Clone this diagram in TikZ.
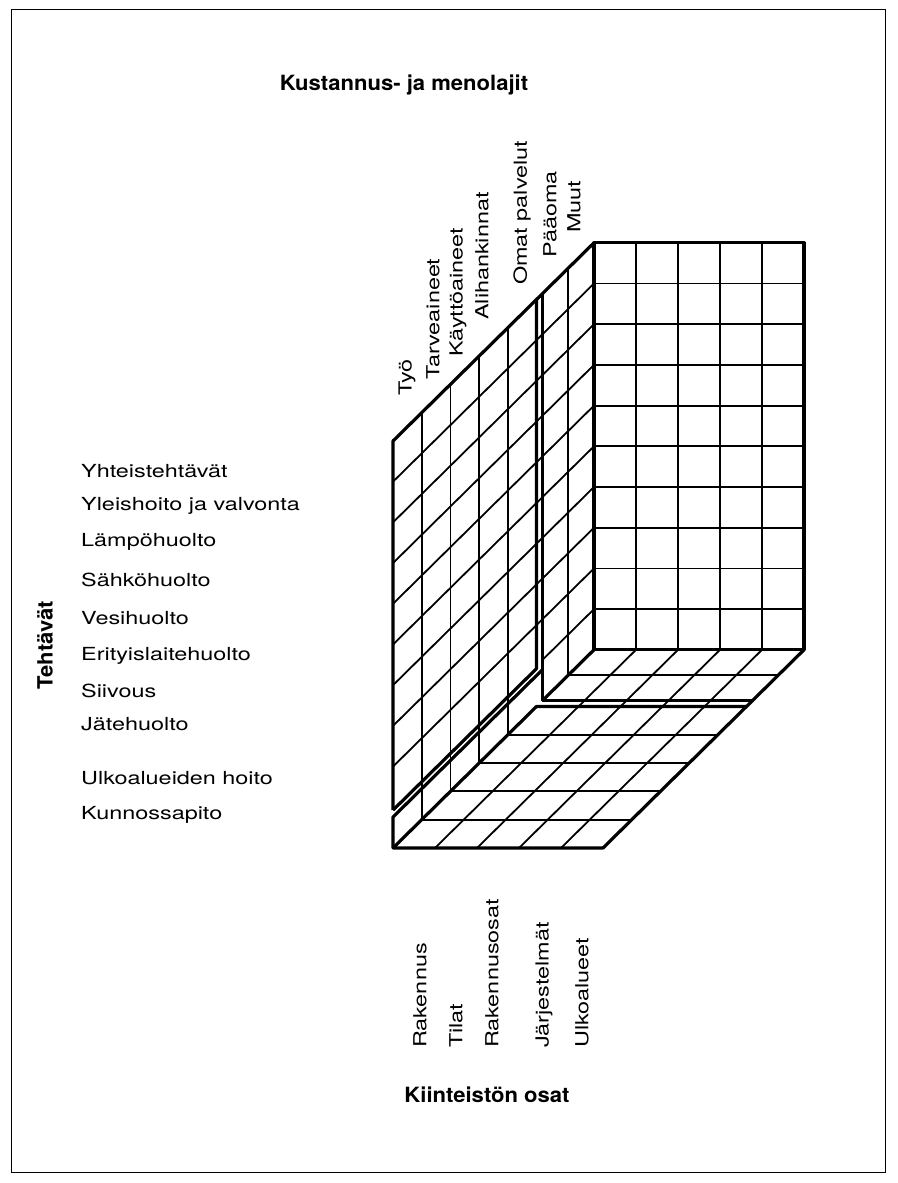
\documentclass[tikz,border=0pt]{standalone}
\usepackage{fontspec}
\setmainfont{TeX Gyre Heros}[FakeStretch=1.3]
\newfontfamily\headfont{TeX Gyre Heros}[FakeStretch=1.05]
\begin{document}
\begin{tikzpicture}[x={(42pt,0pt)},y={(0pt,40.7pt)},z={(28.7pt,28.3pt)},
  cell/.style={line width=1.8pt},
  edge/.style={line width=3.2pt,line join=round},
  lab/.style={inner sep=0pt,font=\fontsize{18}{20}\selectfont},
  head/.style={inner sep=0pt,font=\headfont\fontsize{21}{23}\selectfont\bfseries}]
  \useasboundingbox (-393pt,-335pt) rectangle (504pt,848pt);
  \draw[line width=1pt] (-381pt,-324pt) rectangle (492pt,838pt);

  % back wall
  \foreach \i in {1,...,4}
    \draw[cell] (\i,0,7) -- (\i,10,7);
  \foreach \j in {1,...,9}
    \draw[cell] (0,\j,7) -- (5,\j,7);
  \draw[edge] (0,0,7) -- (5,0,7) -- (5,10,7) -- (0,10,7) -- cycle;

  % side wall
  \foreach \j in {2,...,9}
    \draw[cell] (0,\j,0) -- (0,\j,7);
  \draw[cell] (0,1,5.2) -- (0,1,7);
  \foreach \k in {1,...,4}
    \draw[cell] (0,0,\k) -- (0,10,\k);
  \draw[cell] (0,0,6.1) -- (0,10,6.1);

  % floor
  \foreach \k in {1,...,4}
    \draw[cell] (0,0,\k) -- (5,0,\k);
  \draw[cell] (0,0,6.1) -- (5,0,6.1);
  \foreach \i in {1,...,4}
    \draw[cell] (\i,0,0) -- (\i,0,7);

  % outlines of the three blocks
  \draw[edge] (0,0.93,0) -- (0,10,0) -- (0,10,7);
  \draw[edge] (0,0.93,0) -- (0,0.93,5) -- (0,10,5);
  \draw[edge] (0,0.76,5.2) -- (0,0.76,0) -- (0,0,0) -- (5,0,0) -- (5,0,7);
  \draw[edge] (0,0,0) -- (0,0,5) -- (5,0,5);
  \draw[edge] (0,10,5.2) -- (0,0,5.2) -- (5,0,5.2);
  \draw[edge] (0,0,5.2) -- (0,0,7);

  % titles
  \node[head] (kulut) at (11pt,763pt) {Kustannus- ja menolajit};
  \node[head] (osat) at (94pt,-247pt) {Kiinteistön osat};
  \node[head,rotate=90] (teht) at (-348pt,203pt) {Tehtävät};

  % cost types
  \node[lab,rotate=90,anchor=west] (tyo) at (14pt,452pt) {Työ};
  \node[lab,rotate=90,anchor=west] (tarve) at (40pt,468pt) {Tarveaineet};
  \node[lab,rotate=90,anchor=west] (kaytto) at (65pt,491pt) {Käyttöaineet};
  \node[lab,rotate=90,anchor=west] (ali) at (89pt,528pt) {Alihankinnat};
  \node[lab,rotate=90,anchor=west] (omat) at (129pt,563pt) {Omat palvelut};
  \node[lab,rotate=90,anchor=west] (paaoma) at (157pt,590pt) {Pääoma};
  \node[lab,rotate=90,anchor=west] (muut) at (181pt,615pt) {Muut};

  % tasks
  \node[lab,anchor=west] (yht) at (-312pt,377pt) {Yhteistehtävät};
  \node[lab,anchor=west] (yle) at (-312pt,342pt) {Yleishoito ja valvonta};
  \node[lab,anchor=west] (lampo) at (-312pt,306pt) {Lämpöhuolto};
  \node[lab,anchor=west] (sahko) at (-312pt,268pt) {Sähköhuolto};
  \node[lab,anchor=west] (vesi) at (-312pt,230pt) {Vesihuolto};
  \node[lab,anchor=west] (erit) at (-312pt,192pt) {Erityislaitehuolto};
  \node[lab,anchor=west] (siiv) at (-312pt,157pt) {Siivous};
  \node[lab,anchor=west] (jate) at (-312pt,124pt) {Jätehuolto};
  \node[lab,anchor=west] (ulko) at (-312pt,70pt) {Ulkoalueiden hoito};
  \node[lab,anchor=west] (kunn) at (-312pt,33pt) {Kunnossapito};

  % property parts
  \node[lab,rotate=90,anchor=west] (rak) at (27pt,-200pt) {Rakennus};
  \node[lab,rotate=90,anchor=west] (tilat) at (63pt,-200pt) {Tilat};
  \node[lab,rotate=90,anchor=west] (rosat) at (99pt,-200pt) {Rakennusosat};
  \node[lab,rotate=90,anchor=west] (jarj) at (151pt,-200pt) {Järjestelmät};
  \node[lab,rotate=90,anchor=west] (ualue) at (189pt,-200pt) {Ulkoalueet};
\end{tikzpicture}
\end{document}
